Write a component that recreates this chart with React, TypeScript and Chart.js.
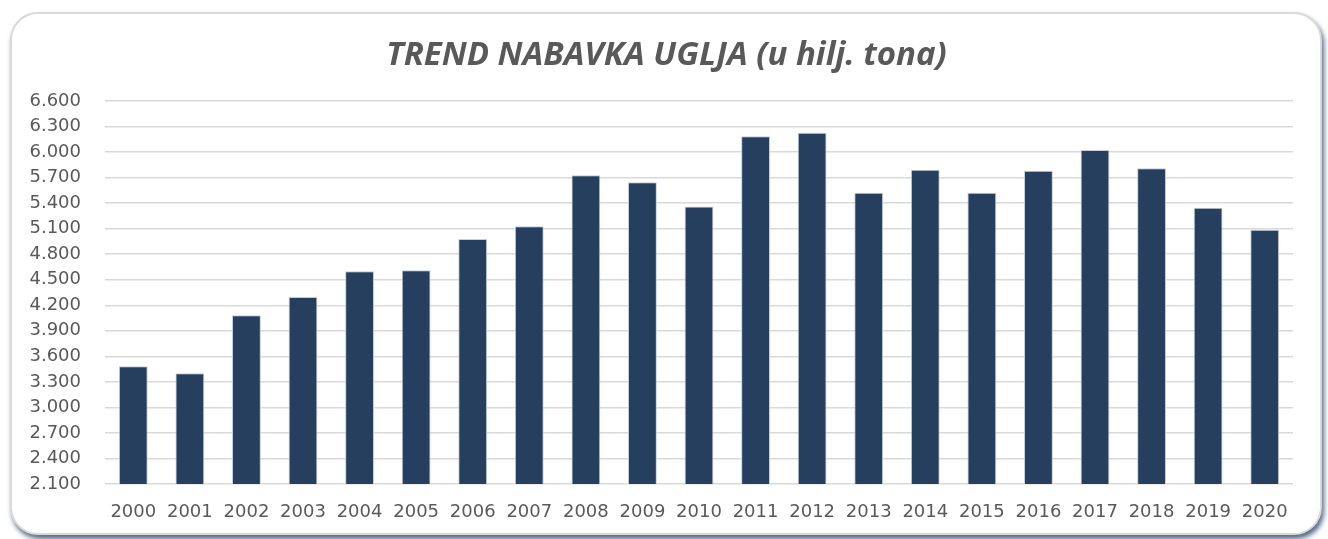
import React, { useEffect, useRef } from "react";
import { Chart, registerables } from "chart.js";

Chart.register(...registerables);

const years = ["2000","2001","2002","2003","2004","2005","2006","2007","2008","2009","2010","2011","2012","2013","2014","2015","2016","2017","2018","2019","2020"];
const supply = [3483, 3400, 4082, 4297, 4599, 4610, 4979, 5127, 5727, 5644, 5359, 6185, 6228, 5523, 5793, 5521, 5781, 6024, 5809, 5347, 5088];
const yMin = 2100;
const yMax = 6600;
const yStep = 300;
const titleText = "TREND NABAVKA UGLJA (u hilj. tona)";

function fmt(v: number): string {
  return String(Math.round(v)).replace(/\B(?=(\d{3})+(?!\d))/g, ".");
}

export default function App() {
  const ref = useRef<HTMLCanvasElement | null>(null);
  useEffect(() => {
    if (!ref.current) return;
    const chart = new Chart(ref.current, {
      type: "bar",
      data: {
        labels: years,
        datasets: [
          {
            data: supply,
            backgroundColor: "#263f5f",
            borderColor: "rgba(190,200,215,0.9)",
            borderWidth: 1,
            categoryPercentage: 1,
            barPercentage: 0.51,
            yAxisID: "y",
          },
        ],
      },
      options: {
        animation: false,
        responsive: false,
        maintainAspectRatio: false,
        layout: { padding: { top: 20, bottom: 15, left: 27, right: 22 } },
        plugins: {
          legend: { display: false },
          tooltip: { enabled: false },
          title: {
            display: true,
            text: titleText,
            color: "#595959",
            font: { family: "'Open Sans'", size: 33, weight: "bold", style: "italic" },
            padding: { top: 15.5, bottom: 25.9 },
          },
        },
        scales: {
          x: {
            afterFit: (s: any) => { s.height = 40; },
            grid: { display: false, drawTicks: false },
            border: { display: false },
            ticks: {
              color: "#595959",
              font: { family: "'DejaVu Sans'", size: 18 },
              padding: 18,
              maxRotation: 0,
              autoSkip: false,
            },
          },
          y: {
            min: yMin,
            max: yMax,
            afterFit: (s: any) => { s.width = 78; },
            grid: { color: "#d9d9d9", lineWidth: 1.5, drawTicks: false },
            border: { display: false },
            ticks: {
              stepSize: yStep,
              autoSkip: false,
              color: "#595959",
              font: { family: "'DejaVu Sans'", size: 18 },
              padding: 24,
              callback: (v: any) => fmt(Number(v)),
            },
          },
          yRightSpacer: {
            position: "right",
            min: yMin,
            max: yMax,
            afterFit: (s: any) => { s.width = 13; },
            grid: { display: false, drawTicks: false },
            border: { display: false },
            ticks: { display: false },
          },
        },
      },
    });
    return () => chart.destroy();
  }, []);

  return (
    <div style={{ position: "absolute", left: 0, top: 0, width: 1328, height: 539, background: "#fff", overflow: "hidden" }}>
      <div
        style={{
          position: "absolute",
          left: 10,
          top: 12,
          width: 1308,
          height: 519,
          border: "2px solid #d9d9d9",
          borderRadius: 28,
          background: "#fff",
          boxShadow: "2px 4px 5px rgba(30,55,95,0.75)",
        }}
      />
      <canvas ref={ref} width={1328} height={539} style={{ position: "absolute", left: 0, top: 0 }} />
    </div>
  );
}
